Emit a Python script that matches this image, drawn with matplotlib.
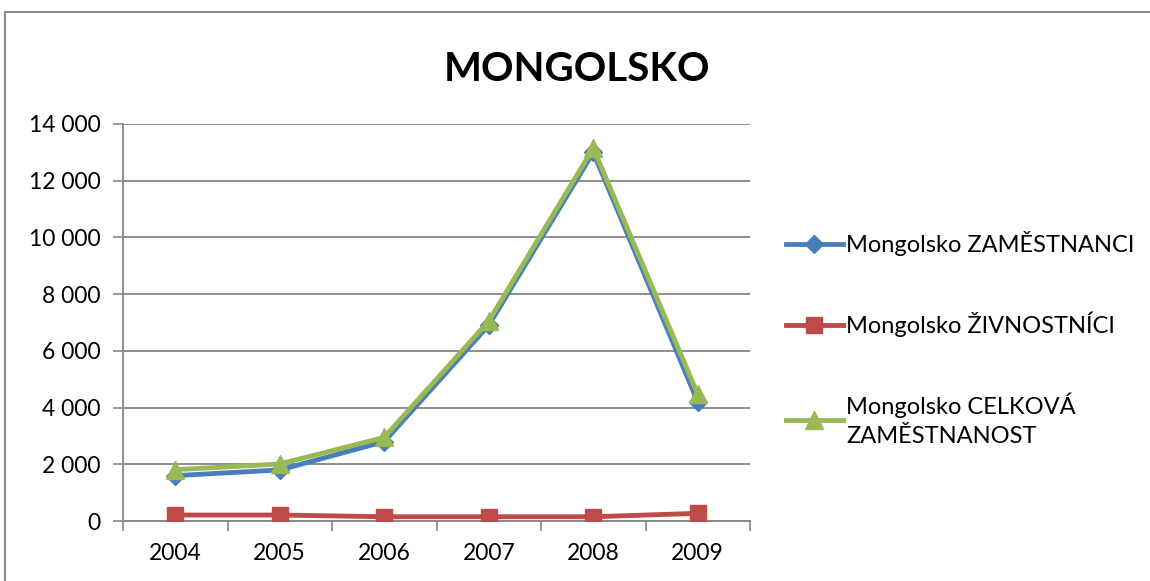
import matplotlib
matplotlib.use("Agg")
import matplotlib.pyplot as plt
from matplotlib.patches import Rectangle
from matplotlib.ticker import FuncFormatter, FixedLocator

years = ["2004", "2005", "2006", "2007", "2008", "2009"]
zamestnanci = [1600, 1800, 2800, 6900, 13000, 4200]
zivnostnici = [210, 210, 150, 150, 150, 270]
celkova = [1810, 2010, 2950, 7050, 13150, 4470]
labels = ["Mongolsko ZAMĚSTNANCI", "Mongolsko ŽIVNOSTNÍCI",
          "Mongolsko CELKOVÁ\nZAMĚSTNANOST"]

plt.rcParams['font.family'] = ['Lato', 'DejaVu Sans']

fig = plt.figure(figsize=(11.5, 5.81), dpi=100)
ax = fig.add_axes([123/1150, 1-521/581, (750-123)/1150, (521-124)/581])

# outer chart border
fig.patches.append(Rectangle((5/1150, -0.1), 1.2, 1-12/581+0.1,
                             transform=fig.transFigure, fill=False,
                             edgecolor='#8c8c8c', linewidth=1.5))

x = list(range(len(years)))
ax.plot(x, zamestnanci, color='#4A7EBB', lw=3.5, marker='D', ms=9,
        label=labels[0], zorder=3)
ax.plot(x, zivnostnici, color='#BE4B48', lw=3.5, marker='s', ms=12,
        label=labels[1], zorder=3)
ax.plot(x, celkova, color='#98B954', lw=3.5, marker='^', ms=13,
        label=labels[2], zorder=4)

ax.set_xlim(-0.5, len(years)-0.5)
ax.set_ylim(0, 14000)
ax.set_yticks(range(0, 14001, 2000))
ax.yaxis.set_major_formatter(FuncFormatter(lambda v, p: f"{int(v):,}".replace(",", " ")))
ax.set_xticks(x)
ax.set_xticklabels(years)
ax.xaxis.set_minor_locator(FixedLocator([i - 0.5 for i in range(len(years)+1)]))
ax.tick_params(axis='x', which='major', length=0, pad=16, labelsize=16.5)
ax.tick_params(axis='x', which='minor', length=7, width=1.2, color='#868686', direction='out')
ax.tick_params(axis='y', length=7, width=1.2, color='#868686', labelsize=16.5, pad=9)

ax.grid(axis='y', color='#868686', lw=1.3)
ax.set_axisbelow(True)
for s in ['top', 'right']:
    ax.spines[s].set_visible(False)
for s in ['left', 'bottom']:
    ax.spines[s].set_color('#868686')
    ax.spines[s].set_linewidth(1.3)

fig.text(577/1150, 1-70/581, "MONGOLSKO", ha='center', va='center',
         fontsize=29, fontweight='bold')

leg = fig.legend(loc='upper left', bbox_to_anchor=(786/1150, 1-231/581),
                 frameon=False, fontsize=17, handlelength=2.4,
                 handletextpad=0.15, labelspacing=2.35, borderaxespad=0,
                 borderpad=0)
for t in leg.get_texts():
    t.set_linespacing(1.5)

fig.savefig("out.png", dpi=100)
